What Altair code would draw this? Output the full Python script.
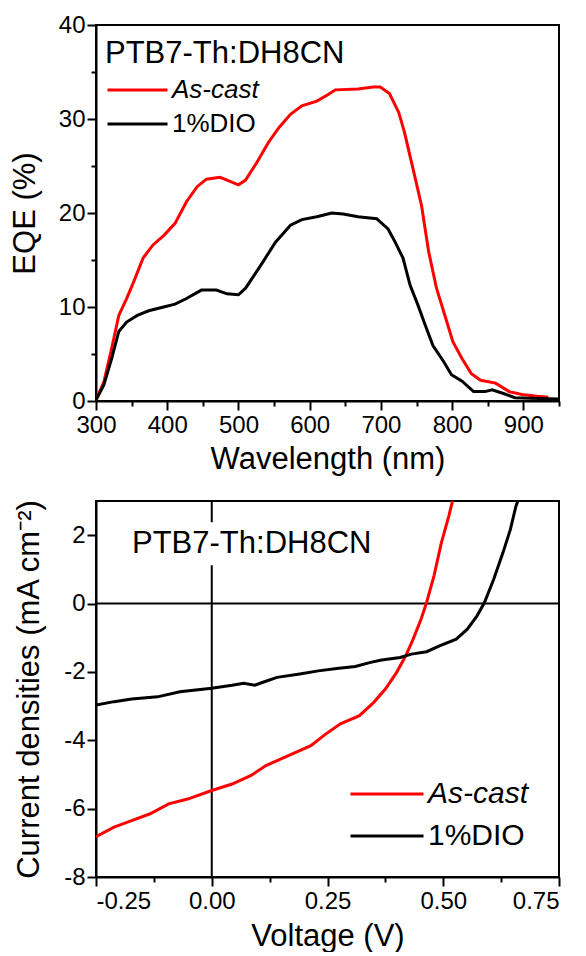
import altair as alt
import pandas as pd

FONT = "Liberation Sans"

# ---------------- EQE data ----------------
eqe_wl_ascast = [300, 311, 322, 332, 343, 353, 366, 380, 395, 411, 427, 442, 455, 474, 484, 500,
                 510, 526, 542, 557, 573, 589, 610, 626, 636, 668, 689, 699, 712, 725, 733, 746,
                 757, 767, 778, 791, 801, 814, 827, 840, 861, 880, 898, 919, 935]
eqe_ascast = [0.1, 2.0, 5.6, 9.1, 10.9, 12.7, 15.2, 16.6, 17.6, 18.9, 21.2, 22.8, 23.6, 23.8, 23.5, 23.0,
              23.5, 25.4, 27.5, 29.1, 30.5, 31.4, 31.9, 32.6, 33.1, 33.2, 33.4, 33.4, 32.7, 30.7, 28.6, 24.4,
              20.8, 15.9, 12.0, 8.8, 6.3, 4.5, 2.9, 2.2, 1.9, 1.0, 0.7, 0.5, 0.4]

eqe_wl_dio = [300, 311, 322, 332, 343, 358, 374, 395, 411, 427, 448, 469, 484, 500, 510, 531,
              552, 573, 589, 610, 631, 647, 668, 694, 710, 720, 731, 741, 752, 762, 773, 788,
              799, 814, 830, 846, 856, 872, 888, 909, 950]
eqe_dio = [0.1, 1.7, 4.5, 7.4, 8.4, 9.1, 9.6, 10.0, 10.3, 10.9, 11.8, 11.8, 11.4, 11.3, 12.0, 14.4,
           16.9, 18.7, 19.3, 19.6, 20.0, 19.9, 19.6, 19.4, 18.3, 16.9, 15.2, 12.3, 10.2, 8.1, 5.9, 4.2,
           2.8, 2.1, 1.0, 1.0, 1.2, 0.8, 0.35, 0.3, 0.2]

# ---------------- J-V data ----------------
jv_v_ascast = [-0.25, -0.211, -0.173, -0.133, -0.093, -0.052, 0.0, 0.044, 0.085, 0.117, 0.157, 0.190,
               0.214, 0.246, 0.278, 0.319, 0.350, 0.375, 0.399, 0.419, 0.435, 0.452, 0.464, 0.480,
               0.496, 0.512, 0.520]
jv_j_ascast = [-6.82, -6.54, -6.35, -6.15, -5.86, -5.72, -5.47, -5.28, -5.03, -4.74, -4.50, -4.30,
               -4.16, -3.82, -3.52, -3.28, -2.89, -2.50, -2.02, -1.53, -1.04, -0.46, 0.03, 0.81,
               1.78, 2.56, 3.0]

jv_v_dio = [-0.25, -0.211, -0.173, -0.117, -0.069, 0.0, 0.044, 0.069, 0.093, 0.109, 0.141, 0.190,
            0.230, 0.270, 0.310, 0.343, 0.367, 0.407, 0.431, 0.464, 0.492, 0.528, 0.552, 0.573,
            0.589, 0.609, 0.629, 0.645, 0.657, 0.661]
jv_j_dio = [-2.97, -2.87, -2.79, -2.73, -2.58, -2.48, -2.39, -2.33, -2.39, -2.31, -2.16, -2.06,
            -1.97, -1.90, -1.84, -1.72, -1.65, -1.58, -1.48, -1.41, -1.24, -1.04, -0.75, -0.36,
            0.03, 0.71, 1.49, 2.17, 2.85, 3.0]

series = ["As-cast", "1%DIO"]
colors = ["#ff0000", "#000000"]
annotation = "PTB7-Th:DH8CN"

eqe_ticks_x = list(range(300, 951, 50))
eqe_ticks_y = list(range(0, 41, 5))
jv_ticks_x = [-0.25, -0.125, 0.0, 0.125, 0.25, 0.375, 0.5, 0.625, 0.75]
jv_ticks_y = [-8, -7, -6, -5, -4, -3, -2, -1, 0, 1, 2, 3]
jv_x0_segments_y = [3, 1.12]
jv_x0_segments_y2 = [2.38, -8]

eqe_df = pd.concat([
    pd.DataFrame({"wl": eqe_wl_ascast, "eqe": eqe_ascast, "s": series[0], "o": range(len(eqe_ascast))}),
    pd.DataFrame({"wl": eqe_wl_dio, "eqe": eqe_dio, "s": series[1], "o": range(len(eqe_dio))}),
])
jv_df = pd.concat([
    pd.DataFrame({"v": jv_v_ascast, "j": jv_j_ascast, "s": series[0], "o": range(len(jv_j_ascast))}),
    pd.DataFrame({"v": jv_v_dio, "j": jv_j_dio, "s": series[1], "o": range(len(jv_j_dio))}),
])

W, H = 463, 376

def tick_size(test):
    return {"condition": {"test": test, "value": 9}, "value": 5}

def legend(x, y, clip, length, fs):
    return alt.Legend(
        title=None, orient="none", legendX=x, legendY=y,
        symbolType="stroke", symbolSize=length * length, symbolStrokeWidth=3,
        labelFont=FONT, labelFontSize=fs, labelColor="black",
        labelFontStyle=alt.ExprRef("datum.label === 'As-cast' ? 'italic' : 'normal'"),
        clipHeight=clip, rowPadding=0, labelOffset=3, padding=0, offset=0,
    )

# ---------------- top chart ----------------
major_eqe_x = "datum.value % 100 === 0"
major_eqe_y = "datum.value % 10 === 0"
eqe_lines = alt.Chart(eqe_df).mark_line(strokeWidth=3, clip=True).encode(
    x=alt.X("wl:Q", scale=alt.Scale(domain=[300, 950], nice=False),
            axis=alt.Axis(title="Wavelength (nm)", values=eqe_ticks_x, labelFlush=False,
                          labelExpr=f"{major_eqe_x} ? format(datum.value, 'd') : ''",
                          tickSize=tick_size(major_eqe_x), labelPadding=3, titlePadding=7)),
    y=alt.Y("eqe:Q", scale=alt.Scale(domain=[0, 40], nice=False),
            axis=alt.Axis(title="EQE (%)", values=eqe_ticks_y,
                          labelExpr=f"{major_eqe_y} ? format(datum.value, 'd') : ''",
                          tickSize=tick_size(major_eqe_y), labelPadding=2, titlePadding=17)),
    color=alt.Color("s:N", scale=alt.Scale(domain=series, range=colors),
                    legend=legend(10, 48, 34, 60, 26)),
    order="o:Q",
)
eqe_text = alt.Chart(pd.DataFrame({"t": [annotation]})).mark_text(
    align="left", baseline="alphabetic", font=FONT, fontSize=31, color="black"
).encode(text="t:N", x=alt.value(9), y=alt.value(38))

top = alt.layer(eqe_lines, eqe_text).properties(width=W, height=H)

# ---------------- bottom chart ----------------
major_jv_x = "abs(datum.value * 4 - round(datum.value * 4)) < 1e-6"
major_jv_y = "datum.value % 2 === 0"
jv_lines = alt.Chart(jv_df).mark_line(strokeWidth=3, clip=True).encode(
    x=alt.X("v:Q", scale=alt.Scale(domain=[-0.25, 0.75], nice=False),
            axis=alt.Axis(title="Voltage (V)", values=jv_ticks_x,
                          labelExpr=f"{major_jv_x} ? replace(format(datum.value, '.2f'), '\u2212', '-') : ''",
                          tickSize=tick_size(major_jv_x), labelPadding=3, titlePadding=8)),
    y=alt.Y("j:Q", scale=alt.Scale(domain=[-8, 3], nice=False),
            axis=alt.Axis(title="Current densities (mA cm\u207b\u00b2)", values=jv_ticks_y,
                          labelExpr=f"{major_jv_y} ? replace(format(datum.value, 'd'), '\u2212', '-') : ''",
                          tickSize=tick_size(major_jv_y), labelPadding=2, titlePadding=18)),
    color=alt.Color("s:N", scale=alt.Scale(domain=series, range=colors),
                    legend=legend(253, 272, 42, 73, 30)),
    order="o:Q",
)
zero_h = alt.Chart(pd.DataFrame({"j": [0]})).mark_rule(color="black", strokeWidth=2).encode(y="j:Q")
zero_v = alt.Chart(pd.DataFrame({"v": [0, 0], "j": jv_x0_segments_y, "j2": jv_x0_segments_y2})).mark_rule(
    color="black", strokeWidth=2).encode(x="v:Q", y="j:Q", y2="j2:Q")
jv_text = alt.Chart(pd.DataFrame({"t": [annotation]})).mark_text(
    align="left", baseline="alphabetic", font=FONT, fontSize=31, color="black"
).encode(text="t:N", x=alt.value(36), y=alt.value(52))

bottom = alt.layer(zero_h, zero_v, jv_lines, jv_text).properties(width=W, height=H)

chart = alt.vconcat(top, bottom, spacing=100, bounds="flush").resolve_scale(
    color="independent").resolve_legend(color="independent").properties(
    padding={"left": 0, "top": 4, "right": 5, "bottom": 0}, background="white"
).configure_view(stroke="black", strokeWidth=2).configure_axis(
    grid=False, domainColor="black", domainWidth=2, tickColor="black", tickWidth=2,
    labelFont=FONT, labelFontSize=24, labelColor="black",
    titleFont=FONT, titleFontSize=31, titleFontWeight="normal", titleColor="black",
)

chart.save("out.html", embed_options={"renderer": "svg", "actions": False})
